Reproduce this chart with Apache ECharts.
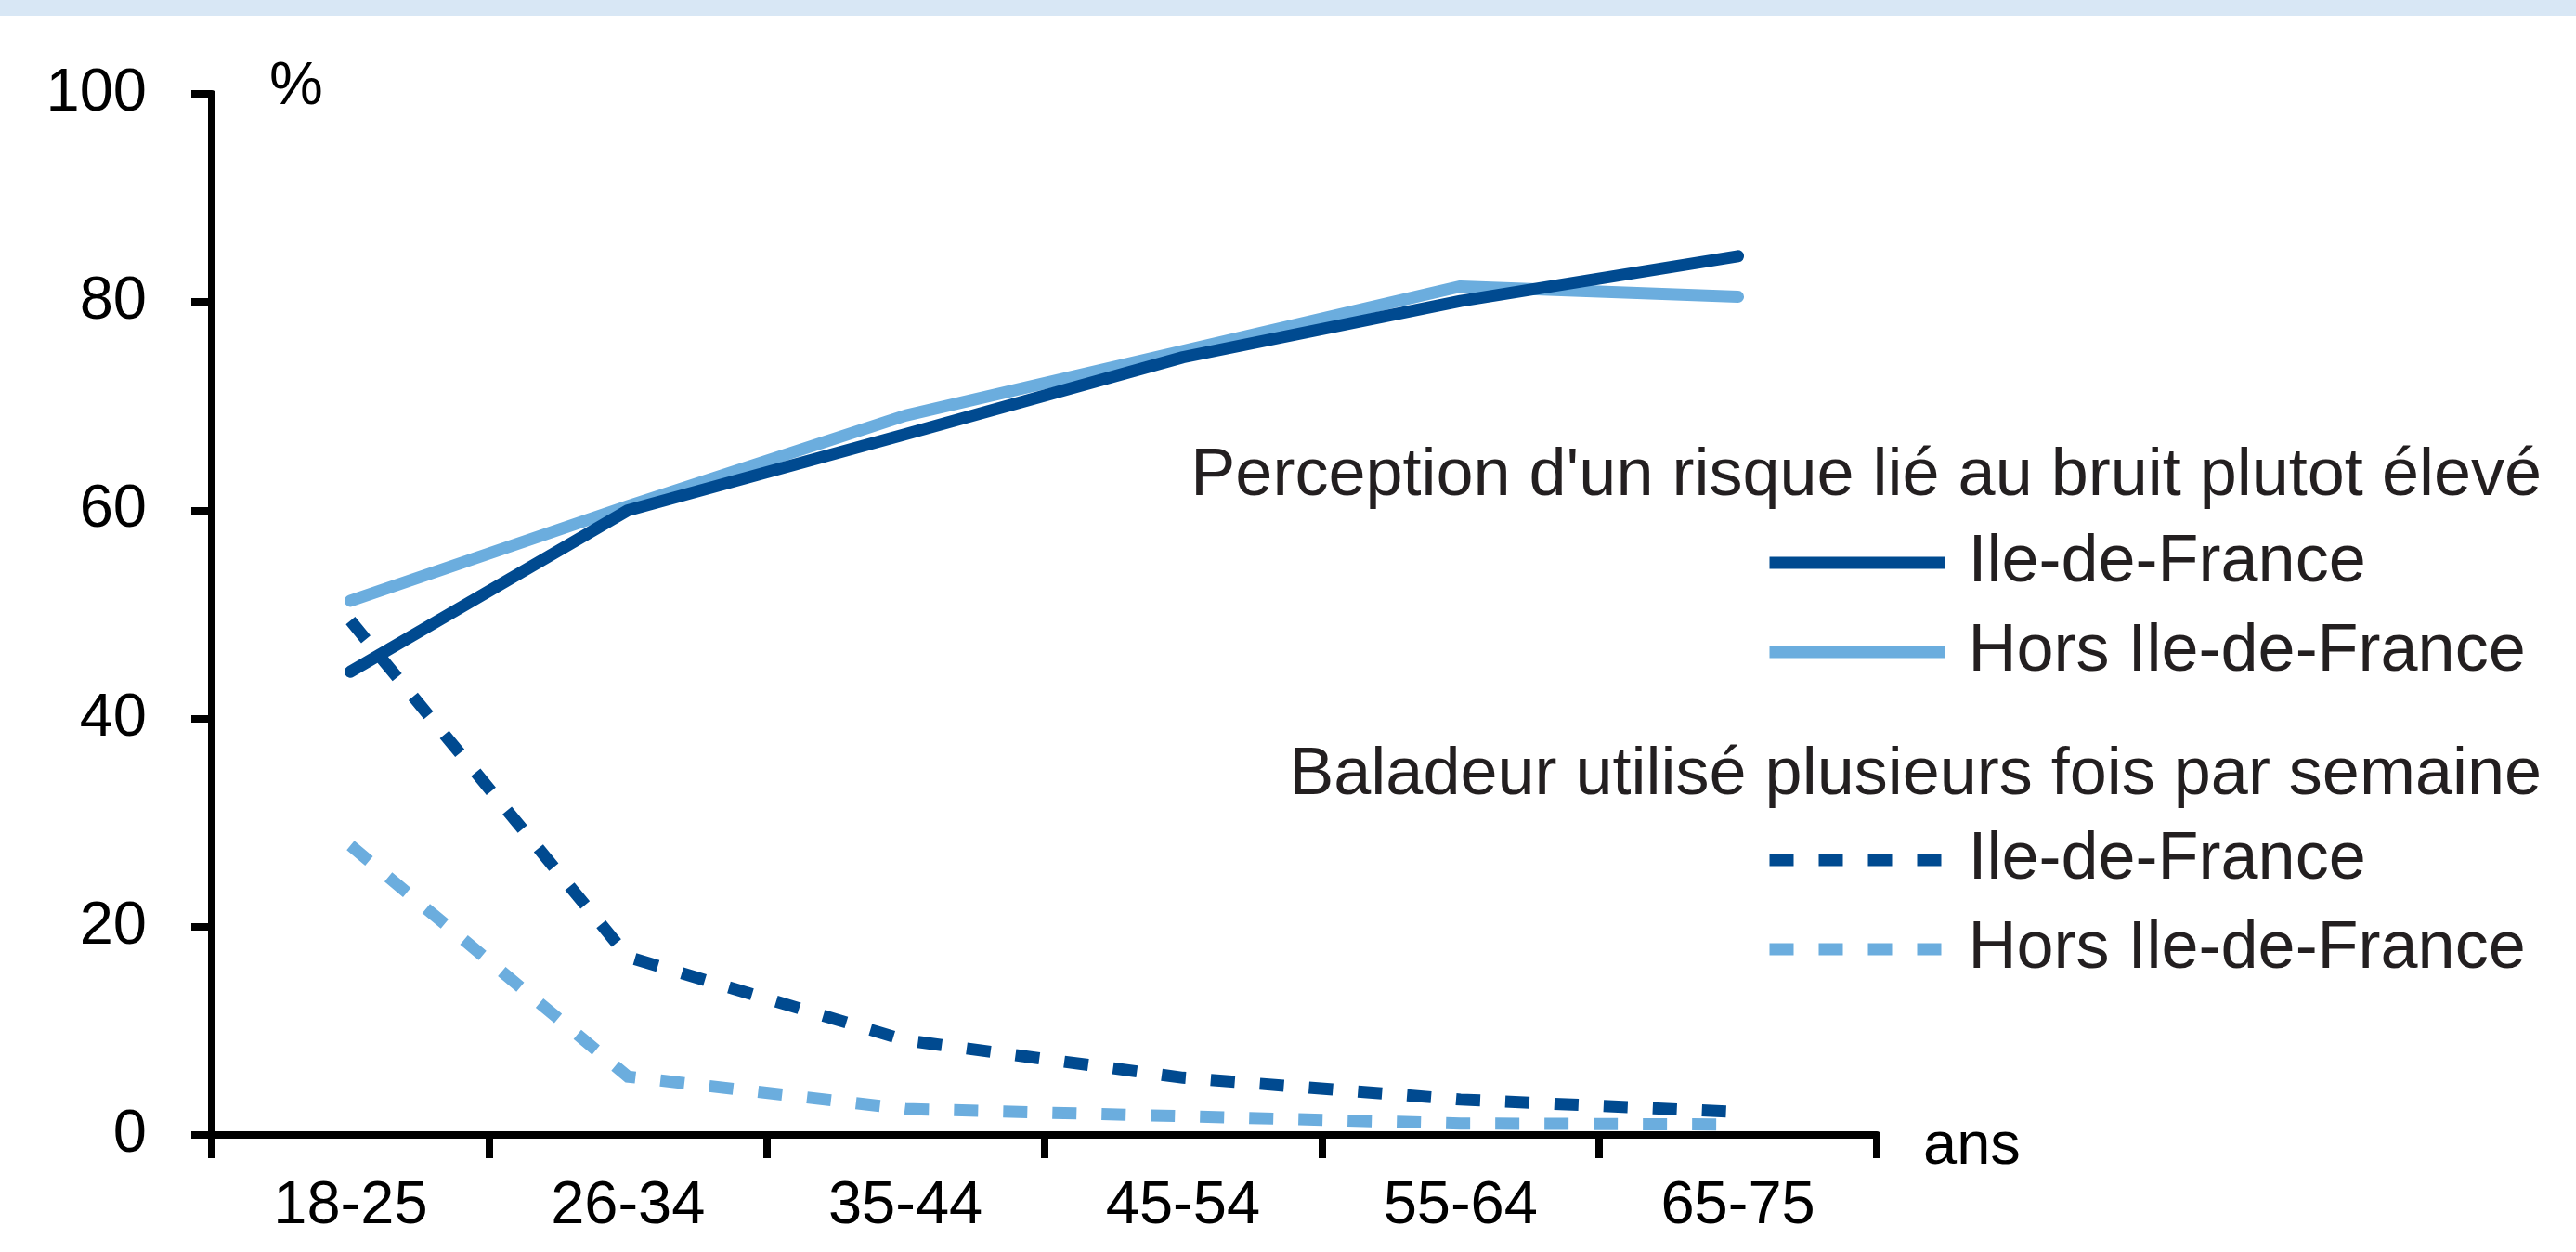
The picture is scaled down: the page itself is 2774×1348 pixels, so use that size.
<!DOCTYPE html>
<html>
<head>
<meta charset="utf-8">
<script src="https://cdn.jsdelivr.net/npm/echarts@6/dist/echarts.min.js"></script>
<style>
html,body{margin:0;padding:0;background:#fff;}
#chart{width:2774px;height:1348px;}
</style>
</head>
<body>
<div id="chart"></div>
<script>
// ---- Data ----
const categories = ['18-25', '26-34', '35-44', '45-54', '55-64', '65-75'];
const perceptionIdf = [44.5, 60.0, 67.3, 74.7, 80.1, 84.4];
const perceptionHors = [51.3, 60.4, 69.1, 75.3, 81.5, 80.5];
const baladeurIdf = [49.4, 17.1, 9.1, 5.5, 3.4, 2.2];
const baladeurHors = [27.8, 5.6, 2.5, 1.8, 1.1, 1.0];
const yMin = 0, yMax = 100, yStep = 20;
const header1 = "Perception d'un risque lié au bruit plutot élevé";
const header2 = "Baladeur utilisé plusieurs fois par semaine";
const legendLabels = {
  pIdf: 'Ile-de-France',
  pHors: 'Hors Ile-de-France',
  bIdf: 'Ile-de-France',
  bHors: 'Hors Ile-de-France'
};
const yUnit = '%';
const xUnit = 'ans';

// ---- Style ----
const DARK = '#004a90';
const LIGHT = '#6badde';
const TXT = '#231f20';
const SANS = "'Liberation Sans', Arial, sans-serif";
const AXF = 65;
const DASH = [26, 27];

const chart = echarts.init(document.getElementById('chart'), null, {renderer: 'canvas'});

function lineSeries(id, data, color, dashed) {
  return {
    name: id,
    type: 'line',
    data: data,
    symbol: 'none',
    showSymbol: false,
    silent: true,
    animation: false,
    lineStyle: {
      color: color,
      width: 13,
      type: dashed ? DASH : 'solid',
      cap: dashed ? 'butt' : 'round',
      join: dashed ? 'miter' : 'round'
    },
    itemStyle: {color: color}
  };
}

const legendCommon = {
  orient: 'vertical',
  left: 1899,
  padding: 0,
  itemGap: 24,
  itemWidth: 189,
  itemHeight: 13,
  selectedMode: false,
  itemStyle: {opacity: 0},
  lineStyle: {width: 13, cap: 'butt'},
  formatter: function (n) { return legendLabels[n]; },
  textStyle: {
    fontFamily: SANS,
    fontSize: 72,
    lineHeight: 72,
    color: TXT,
    padding: [0, 0, 0, 20]
  }
};

chart.setOption({
  animation: false,
  backgroundColor: '#ffffff',
  graphic: [{
    type: 'rect',
    left: 0, top: 0,
    shape: {width: 2774, height: 17},
    style: {fill: '#d8e7f5'},
    silent: true
  }],
  title: [
    {text: header1, right: 37, top: 477, padding: 0,
     textStyle: {fontFamily: SANS, fontSize: 72, lineHeight: 72, fontWeight: 'normal', color: TXT}},
    {text: header2, right: 37, top: 799, padding: 0,
     textStyle: {fontFamily: SANS, fontSize: 72, lineHeight: 72, fontWeight: 'normal', color: TXT}}
  ],
  legend: [
    Object.assign({}, legendCommon, {top: 570, data: ['pIdf', 'pHors']}),
    Object.assign({}, legendCommon, {top: 890, data: ['bIdf', 'bHors']})
  ],
  grid: {left: 228, top: 101, width: 1793, height: 1121, containLabel: false},
  xAxis: {
    type: 'category',
    data: categories,
    boundaryGap: true,
    name: xUnit,
    nameLocation: 'end',
    nameGap: 50,
    nameTextStyle: {fontFamily: SANS, fontSize: AXF, lineHeight: 26, color: '#000',
      align: 'left', verticalAlign: 'top'},
    axisLine: {lineStyle: {color: '#000', width: 8}},
    axisTick: {show: true, alignWithLabel: false, interval: 0, length: 25,
      lineStyle: {color: '#000', width: 8}},
    axisLabel: {interval: 0, margin: 45, fontFamily: SANS, fontSize: AXF, lineHeight: AXF, color: '#000'},
    splitLine: {show: false}
  },
  yAxis: {
    type: 'value',
    min: yMin, max: yMax, interval: yStep,
    name: yUnit,
    nameLocation: 'end',
    nameGap: -26,
    nameTextStyle: {fontFamily: SANS, fontSize: AXF, lineHeight: AXF, color: '#000',
      align: 'left', verticalAlign: 'bottom', padding: [0, 0, 0, 62]},
    axisLine: {show: true, lineStyle: {color: '#000', width: 8}},
    axisTick: {show: true, length: 22, lineStyle: {color: '#000', width: 8}},
    axisLabel: {margin: 70, fontFamily: SANS, fontSize: AXF, lineHeight: AXF, color: '#000'},
    splitLine: {show: false}
  },
  series: [
    lineSeries('bHors', baladeurHors, LIGHT, true),
    lineSeries('bIdf', baladeurIdf, DARK, true),
    lineSeries('pHors', perceptionHors, LIGHT, false),
    lineSeries('pIdf', perceptionIdf, DARK, false)
  ]
});
</script>
</body>
</html>
